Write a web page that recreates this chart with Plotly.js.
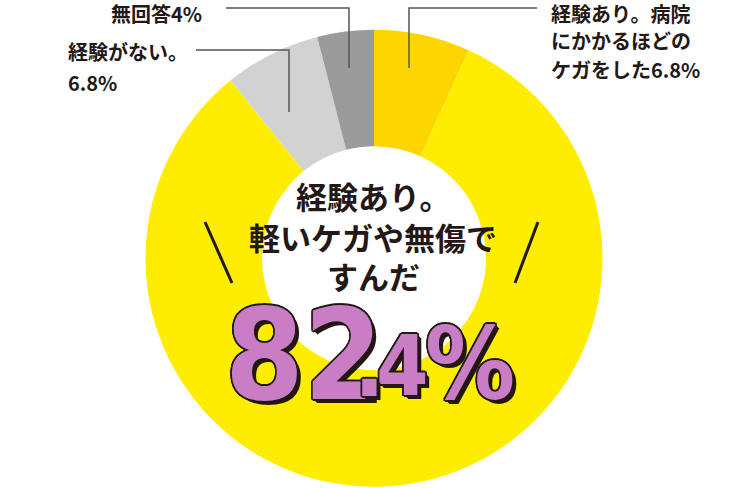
<!DOCTYPE html>
<html>
<head>
<meta charset="utf-8">
<script src="https://cdn.plot.ly/plotly-3.0.1.min.js"></script>
<style>
  html, body { margin: 0; padding: 0; background: #fff; }
  #chart { width: 750px; height: 488px; }
</style>
</head>
<body>
<div id="chart"></div>
<script>
// 回答の内訳（12時の位置から時計回り）
const categories = [
    '経験あり。病院にかかるほどのケガをした',
    '経験あり。軽いケガや無傷ですんだ',
    '経験がない。',
    '無回答'
];
const values = [6.8, 82.4, 6.8, 4];
const sliceColors = ['#FFD500', '#FFED00', '#D2D2D2', '#9B9B9B'];

// 外側のラベル
const labelHospital = ['経験あり。病院', 'にかかるほどの', 'ケガをした6.8%'];
const labelNone = ['経験がない。', '6.8%'];
const labelNoAnswer = ['無回答4%'];

// 中央のテキスト
const centerLines = ['経験あり。', '軽いケガや無傷で', 'すんだ'];
const bigValue = values[1].toFixed(1) + '%';   // "82.4%"

const W = 750, H = 488;
const px = x => x / W;
const py = y => 1 - y / H;

const ink = '#231815';
const jp = '"Noto Sans CJK JP", "Noto Sans", sans-serif';
const numFont = '"Liberation Sans Narrow", "DejaVu Sans Condensed", "Roboto", sans-serif';

const pie = {
    type: 'pie',
    labels: categories,
    values: values,
    sort: false,
    direction: 'clockwise',
    rotation: 0,
    hole: 0.49,
    textinfo: 'none',
    hoverinfo: 'label+percent',
    marker: { colors: sliceColors, line: { width: 0 } },
    domain: { x: [px(145.5), px(602.5)], y: [py(487), py(29.5)] },
    showlegend: false
};

const annotations = [];

function addText(text, x, y, size, anchor, weight) {
    annotations.push({
        xref: 'paper', yref: 'paper',
        x: px(x), y: py(y),
        xanchor: anchor || 'left', yanchor: 'middle',
        text: text, showarrow: false,
        font: { family: jp, size: size, color: ink, weight: weight || 700 }
    });
}

labelNoAnswer.forEach((t, i) => addText(t, 109, 13 + i * 30, 20));
labelNone.forEach((t, i) => addText(t, 66, 51 + i * 31, 20));
labelHospital.forEach((t, i) => addText(t, 549, 13 + i * 28, 20));

const centerY = [195, 237, 275];
centerLines.forEach((t, i) => addText(t, 373, centerY[i], 31, 'center', 600));

// 82.4% ： 濃い縁取りと右下の影
const outline = [];
for (let a = 0; a < 16; a++) {
    const r = 1.6;
    const dx = (Math.cos(a * Math.PI / 8) * r).toFixed(2);
    const dy = (Math.sin(a * Math.PI / 8) * r).toFixed(2);
    outline.push(`${dx}px ${dy}px 0 ${ink}`);
}
for (let s = 1; s <= 3; s++) outline.push(`${s + 1}px ${s + 1}px 0 ${ink}`);

// 文字ごとに分けて配置（整数部は大きく、小数部と%は小さく）
const bigParts = [
    { text: bigValue.slice(0, 2), cx: 304, base: 403, size: 126 },
    { text: bigValue.slice(3, 4), cx: 402, base: 398, size: 84 },
    { text: bigValue.slice(2, 3), cx: 369, base: 399, size: 90 },
    { text: bigValue.slice(4), cx: 470, base: 402, size: 100 }
];
bigParts.forEach(p => {
    annotations.push({
        xref: 'paper', yref: 'paper',
        x: px(p.cx), y: py(p.base + 0.225 * p.size),
        xanchor: 'center', yanchor: 'bottom',
        text: p.text, showarrow: false,
        font: {
            family: numFont, size: p.size, color: '#C97DC5', weight: 700,
            shadow: outline.join(', ')
        }
    });
});

const lineStyle = { color: '#555555', width: 1.5 };
const shapes = [
    // 無回答
    { type: 'path', path: `M ${px(226)} ${py(8)} L ${px(349)} ${py(8)} L ${px(349)} ${py(68)}`, line: lineStyle },
    // 経験がない
    { type: 'path', path: `M ${px(196)} ${py(50)} L ${px(289)} ${py(50)} L ${px(289)} ${py(112)}`, line: lineStyle },
    // 病院にかかるほど
    { type: 'path', path: `M ${px(537)} ${py(8)} L ${px(409)} ${py(8)} L ${px(409)} ${py(68)}`, line: lineStyle },
    // 中央の斜線
    { type: 'line', x0: px(205), y0: py(222), x1: px(232), y1: py(283), line: { color: ink, width: 3 } },
    { type: 'line', x0: px(538), y0: py(222), x1: px(515), y1: py(283), line: { color: ink, width: 3 } }
].map(s => Object.assign({ xref: 'paper', yref: 'paper' }, s));

const layout = {
    width: W, height: H,
    margin: { l: 0, r: 0, t: 0, b: 0 },
    paper_bgcolor: '#ffffff',
    plot_bgcolor: '#ffffff',
    annotations: annotations,
    shapes: shapes
};

Plotly.newPlot('chart', [pie], layout, { displayModeBar: false, staticPlot: true });
</script>
</body>
</html>
